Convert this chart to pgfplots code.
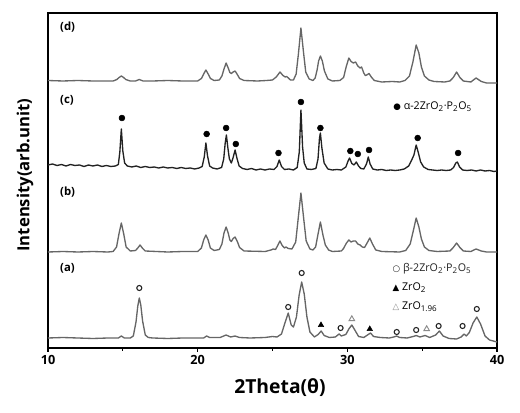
\documentclass[border=0pt]{standalone}
\usepackage{pgfplots}
\pgfplotsset{compat=1.18}
\usepackage{fontspec}
\setmainfont{Open Sans}
\newfontfamily\symfont{DejaVu Sans}
\definecolor{tracegray}{HTML}{666666}
\definecolor{tracedark}{HTML}{222222}
\definecolor{mkgray}{HTML}{8A8A8A}
\begin{document}
\begin{tikzpicture}
\path[use as bounding box] (-36pt,-48.75pt) rectangle (354pt,261pt);
\begin{axis}[
  at={(0,0)}, anchor=south west,
  scale only axis, width=336.75pt, height=251.25pt,
  xmin=10, xmax=40, ymin=0, ymax=335,
  xtick={10,20,30,40}, minor xtick={15,25,35},
  ytick=\empty,
  tick pos=bottom, tick align=outside,
  major tick length=3pt, minor tick length=2pt,
  every tick/.style={black, line width=0.8pt},
  axis line style={black, line width=1pt},
  /pgf/number format/assume math mode=true,
  xticklabel style={font=\bfseries\fontsize{9.5}{11}\selectfont, yshift=1pt},
  clip=false,
]
% (d)
\addplot[tracegray, line width=1pt, line join=round] coordinates {
(10,267.5)(11,267)(12,267.5)(13,267)(14,267)(14.35,267)(14.6,268.5)(14.75,270.5)(14.9,272)(15.05,270.5)(15.2,268.5)(15.5,267)
(15.85,267)(16.1,268.5)(16.35,267)(17,267)(18,267.5)(19,267)(20.0,267)(20.25,269.5)(20.4,274)(20.55,278)(20.7,274)(20.85,269.5)(21.1,267.5)
(21.45,268)(21.62,272)(21.76,279)(21.9,285)(22.04,280)(22.15,275.5)(22.25,274.5)(22.37,276)(22.5,277)(22.65,273.5)(22.8,269.5)(23.1,267.5)
(24.0,267)(24.6,267.5)(25.0,268)(25.25,271)(25.5,276)(25.7,272.5)(25.85,271)(25.95,271.5)(26.2,268)
(26.4,268)(26.58,274)(26.73,294)(26.9,320)(27.07,296)(27.22,276)(27.45,269)(27.7,267.5)
(27.85,270)(27.98,278)(28.08,287)(28.2,292)(28.33,287)(28.47,277)(28.7,269)(29.0,267)(29.5,267.5)
(29.75,270.5)(29.92,281)(30.1,290)(30.25,286.5)(30.4,285)(30.55,286)(30.7,282)(30.85,280)(30.95,281)(31.1,275)(31.2,272.5)(31.3,273)(31.45,274.5)(31.6,271)(31.8,267.5)(32.3,266)(33.0,266.5)(33.5,266)
(33.85,267.5)(34.15,272)(34.38,286)(34.6,303)(34.78,295)(34.95,281)(35.15,272)(35.45,268)(35.8,266.5)(36.5,266)
(36.85,267)(37.08,270.5)(37.3,276)(37.52,270.5)(37.75,267)(38.25,266)(38.6,270)(38.95,266.5)(39.3,265)(40,265)
};
% (c)
\addplot[tracedark, line width=1pt, line join=round] coordinates {
(10,183)(10.3,184)(10.6,182.5)(10.9,183.5)(11.2,182)(11.5,183.5)(11.8,182.5)(12.1,183)(12.4,181.5)(12.7,183)(13.0,182)(13.3,183)(13.6,181.5)(13.9,182.5)(14.2,181.5)(14.5,182)(14.7,183.5)
(14.8,196)(14.9,219)(15.0,197)(15.12,185)(15.3,182)(15.6,181)(15.9,182)(16.2,180.5)(16.5,181.5)(16.8,180.5)(17.1,181)(17.4,180)(17.7,181)(18.0,180)(18.3,180.5)(18.6,179.5)(18.9,180.5)(19.2,179.5)(19.5,180)(19.8,179)(20.1,180)
(20.3,181.5)(20.44,191)(20.55,205)(20.66,192)(20.8,182)(21.0,180)(21.3,179)(21.6,180.5)(21.74,189)(21.84,205)(21.92,213)(22.01,201)(22.12,189)(22.25,185)(22.38,191)(22.5,198)(22.62,190)(22.77,182)
(23.0,179.5)(23.3,178.5)(23.6,179.5)(23.9,178)(24.2,179)(24.5,178)(24.8,179)(25.1,178.5)(25.3,181.5)(25.45,188)(25.6,181.5)(25.8,178.5)(26.1,179)(26.4,178)(26.65,180.5)
(26.79,196)(26.9,238)(27.01,201)(27.12,185)(27.3,179)(27.6,178.5)(27.9,179.5)(28.04,189)(28.14,210)(28.2,215)(28.3,200)(28.45,185)(28.7,179)(29.0,178)(29.3,178.5)(29.6,178)
(29.9,181)(30.05,187)(30.15,190)(30.3,184.5)(30.45,183)(30.6,186)(30.75,182)(30.9,179.5)(31.1,179)(31.28,184)(31.4,191)(31.52,184)(31.7,179)(32.0,178)(32.3,178.5)(32.6,177.5)(32.9,178)(33.2,177.5)(33.5,178)
(33.8,179)(34.1,182)(34.3,188)(34.45,193)(34.6,203)(34.75,195)(34.9,186)(35.1,181)(35.4,178.5)(35.7,178)(36.0,177.5)(36.3,178)(36.6,177.5)(36.9,178)
(37.1,180.5)(37.25,185)(37.35,186)(37.5,181)(37.7,178)(38.0,177.5)(38.3,178)(38.6,177)(38.9,178)(39.2,177)(39.5,177.5)(39.8,176.5)(40,177)
};
% (b)
\addplot[tracegray, line width=1pt, line join=round] coordinates {
(10,96)(11,96.5)(12,96)(13,96.5)(14,96)(14.35,96.5)(14.58,101)(14.74,114)(14.9,125)(15.06,114)(15.22,101)(15.5,97)(15.85,97.5)(16.0,100)(16.15,103)(16.3,100)(16.5,97)(18,96)(19,96.5)
(20.0,96.5)(20.25,100)(20.4,108)(20.55,113)(20.7,108)(20.85,100)(21.1,97.5)(21.45,98.5)(21.62,104)(21.76,115)(21.9,121)(22.04,115)(22.15,108)(22.25,106.5)(22.37,109.5)(22.5,111)(22.65,106.5)(22.8,100.5)(23.1,97)
(24.5,96.5)(24.9,98)(25.05,99)(25.2,98.5)(25.35,102.5)(25.5,107)(25.65,102.5)(25.8,100)(25.9,101)(26.05,99.5)(26.3,99)
(26.55,106)(26.72,130)(26.9,155)(27.08,130)(27.25,107)(27.5,99)(27.7,98)(27.88,101)(28.03,113)(28.2,126)(28.37,113)(28.53,103)(28.75,98)(29.0,96.5)(29.6,97)
(29.75,99.5)(29.92,104.5)(30.1,108)(30.25,106)(30.4,107)(30.55,107)(30.7,104)(30.85,103)(31.0,101)(31.15,100.5)(31.32,105)(31.5,110)(31.68,104)(31.9,98)(32.3,96.5)(33.5,96)
(33.9,97.5)(34.2,104)(34.42,118)(34.6,130)(34.78,121)(34.95,109)(35.15,101)(35.45,97.5)(36.0,96.5)(36.85,97)(37.08,100.5)(37.3,105)(37.52,100.5)(37.75,97)(38.25,96.5)(38.6,99)(38.95,97)(39.3,96)(40,96)
};
% (a)
\addplot[tracegray, line width=1pt, line join=round] coordinates {
(10,10)(11,10.5)(12,10)(13,9.5)(14,10)(14.7,10)(14.9,12)(15.1,10)(15.5,10)(15.7,12)(15.88,26)(16.0,42)(16.1,50)(16.2,43)(16.32,27)(16.5,13)(16.7,10.5)(17,10)(18,9.5)(19,10)(20,10)
(20.4,10)(20.6,12)(20.8,10.5)(21.5,10.5)(21.9,13)(22.2,11)(22.5,12)(22.8,10.5)(23.5,10)(24.5,10.5)(25.0,11.5)(25.3,11)(25.6,14)(25.85,26)(26.05,35)(26.25,23)(26.4,21)
(26.6,31)(26.78,53)(26.95,66)(27.12,54)(27.3,31)(27.5,16)(27.8,11)(28.05,13.5)(28.25,17)(28.45,12.5)(28.8,10.5)(29.2,11)(29.45,14)(29.6,12)(29.9,13.5)(30.1,19)(30.3,23)(30.5,18)(30.75,11.5)
(31.1,10.5)(31.35,13)(31.55,15)(31.75,11.5)(32.2,10.5)(32.8,10)(33.1,11)(33.3,12)(33.5,10.5)(34.0,10)(34.4,11.5)(34.6,12.5)(34.85,11)(35.2,12.5)(35.5,10.5)(35.9,13)(36.15,17)(36.4,12)
(36.8,9.5)(37.3,9)(37.6,11)(37.8,14)(37.95,12)(38.15,15.5)(38.4,25)(38.65,31)(38.9,24)(39.2,12)(39.5,8)(40,6)
};
% markers (c)
\addplot[only marks, mark=*, mark size=2.2pt, black] coordinates {
(14.94,230)(20.6,214)(21.9,220)(22.55,204)(25.4,195)(26.9,246)(28.2,220)(30.2,197)(30.7,194)(31.45,198)(34.7,210)(37.4,195)
};
% markers (a): beta open circles
\addplot[only marks, mark=o, mark size=1.9pt, line width=0.8pt, tracedark] coordinates {
(16.1,60)(26.05,41)(26.95,75)(29.55,20)(33.3,16)(34.6,18)(36.1,22)(37.7,22)(38.65,39)
};
% ZrO2 filled triangles
\addplot[only marks, mark=triangle*, mark size=2.3pt, black] coordinates {
(28.24,23)(31.5,19)
};
% ZrO1.96 open triangles
\addplot[only marks, mark=triangle, mark size=2.4pt, line width=0.7pt, mkgray] coordinates {
(30.3,29)(35.3,19)
};
% panel labels
\node[anchor=west, font=\bfseries\fontsize{8.5}{10}\selectfont] at (axis cs:10.5,321) {(d)};
\node[anchor=west, font=\bfseries\fontsize{8.5}{10}\selectfont] at (axis cs:10.5,248) {(c)};
\node[anchor=west, font=\bfseries\fontsize{8.5}{10}\selectfont] at (axis cs:10.5,156) {(b)};
\node[anchor=west, font=\bfseries\fontsize{8.5}{10}\selectfont] at (axis cs:10.5,80) {(a)};
% legends
\node[anchor=west, font=\fontsize{8}{9}\selectfont, inner sep=0pt] at (axis cs:33.05,241) {{\symfont\fontsize{6.5}{8}\selectfont●}\;α-2ZrO\textsubscript{2}·P\textsubscript{2}O\textsubscript{5}};
\node[anchor=west, font=\fontsize{8}{9}\selectfont, inner sep=0pt, text=tracedark] at (axis cs:33.0,79) {{\symfont\fontsize{6.5}{8}\selectfont○}\;β-2ZrO\textsubscript{2}·P\textsubscript{2}O\textsubscript{5}};
\node[anchor=west, font=\fontsize{8}{9}\selectfont, inner sep=0pt] at (axis cs:33.0,60) {{\symfont\fontsize{6.5}{8}\selectfont▲}\;ZrO\textsubscript{2}};
\node[anchor=west, font=\fontsize{8}{9}\selectfont, inner sep=0pt] at (axis cs:33.0,41) {{\symfont\fontsize{6.5}{8}\selectfont\color{mkgray}△}\;ZrO\textsubscript{1.96}};
\end{axis}
\node[font=\bfseries\fontsize{14.5}{16}\selectfont] at (174pt,-30pt) {2Theta(θ)};
\node[font=\bfseries\fontsize{12.5}{14}\selectfont, rotate=90] at (-17.25pt,129.75pt) {Intensity(arb.unit)};
\end{tikzpicture}
\end{document}
